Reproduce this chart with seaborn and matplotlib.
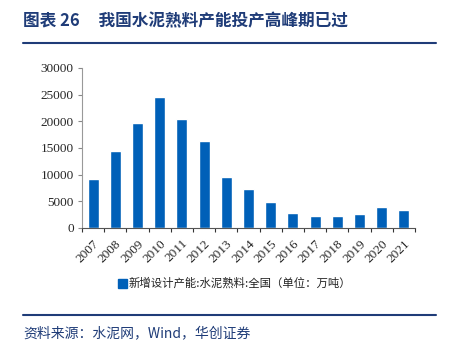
import numpy as np
import pandas as pd
import seaborn as sns
import matplotlib.pyplot as plt
from matplotlib.lines import Line2D
from matplotlib.patches import Rectangle

years = ['2007', '2008', '2009', '2010', '2011', '2012', '2013', '2014',
         '2015', '2016', '2017', '2018', '2019', '2020', '2021']
capacity = [9100, 14500, 19650, 24550, 20400, 16200, 9550, 7230,
            4850, 2700, 2150, 2150, 2520, 3900, 3330]
series_name = '新增设计产能:水泥熟料:全国（单位：万吨）'
title_text = '图表 26     我国水泥熟料产能投产高峰期已过'
source_text = '资料来源：水泥网，Wind，华创证券'

df = pd.DataFrame({'year': years, 'capacity': capacity})

sns.set_theme(style='white')
plt.rcParams['font.family'] = ['Noto Sans CJK SC', 'DejaVu Sans']

bar_color = '#0060B8'
navy = '#1F3C78'

fig = plt.figure(figsize=(4.53, 3.5), dpi=100)
ax = fig.add_axes([0.181, 0.349, 0.735, 0.457])

sns.barplot(data=df, x='year', y='capacity', color=bar_color, width=0.5,
            saturation=1, ax=ax)

ax.set_xlim(-0.5, len(years) - 0.5)
ax.set_ylim(0, 30000)
ax.set_yticks(np.arange(0, 30001, 5000))
ax.set_yticklabels([str(v) for v in range(0, 30001, 5000)],
                   fontfamily='Liberation Serif', fontsize=9.5)
ax.set_xticks(range(len(years)))
ax.set_xticklabels(years, rotation=45, ha='right', rotation_mode='anchor',
                   fontfamily='Liberation Serif', fontsize=9.5)
ax.set_xticks(np.arange(-0.5, len(years), 1), minor=True)
ax.tick_params(axis='x', which='major', length=0, pad=7)
ax.tick_params(axis='x', which='minor', length=3, width=0.8, color='#333333',
               direction='out', bottom=True)
ax.tick_params(axis='y', length=3, width=0.8, color='#888888', direction='out',
               left=True, pad=3)
ax.set_xlabel('')
ax.set_ylabel('')
for s in ['top', 'right']:
    ax.spines[s].set_visible(False)
ax.spines['left'].set_color('#999999')
ax.spines['bottom'].set_color('#555555')
ax.spines['left'].set_linewidth(0.8)
ax.spines['bottom'].set_linewidth(0.8)

# legend
fig.patches.append(Rectangle((118 / 453, 1 - 288 / 350), 9 / 453, 9 / 350,
                             transform=fig.transFigure, color=bar_color))
fig.text(129 / 453, 1 - 283 / 350, series_name, fontsize=8.2, va='center',
         ha='left', color='#222222')

# title and rules
fig.text(23 / 453, 1 - 21 / 350, title_text, fontsize=12, fontweight='bold',
         color=navy, va='center', ha='left')
fig.lines.append(Line2D([23 / 453, 436 / 453], [1 - 43 / 350, 1 - 43 / 350],
                        transform=fig.transFigure, color=navy, lw=1.5))
fig.lines.append(Line2D([23 / 453, 436 / 453], [1 - 315 / 350, 1 - 315 / 350],
                        transform=fig.transFigure, color=navy, lw=1.5))
fig.text(23 / 453, 1 - 333 / 350, source_text, fontsize=10, style='italic',
         color=navy, va='center', ha='left')

plt.savefig('out.png', dpi=100)
plt.close()
